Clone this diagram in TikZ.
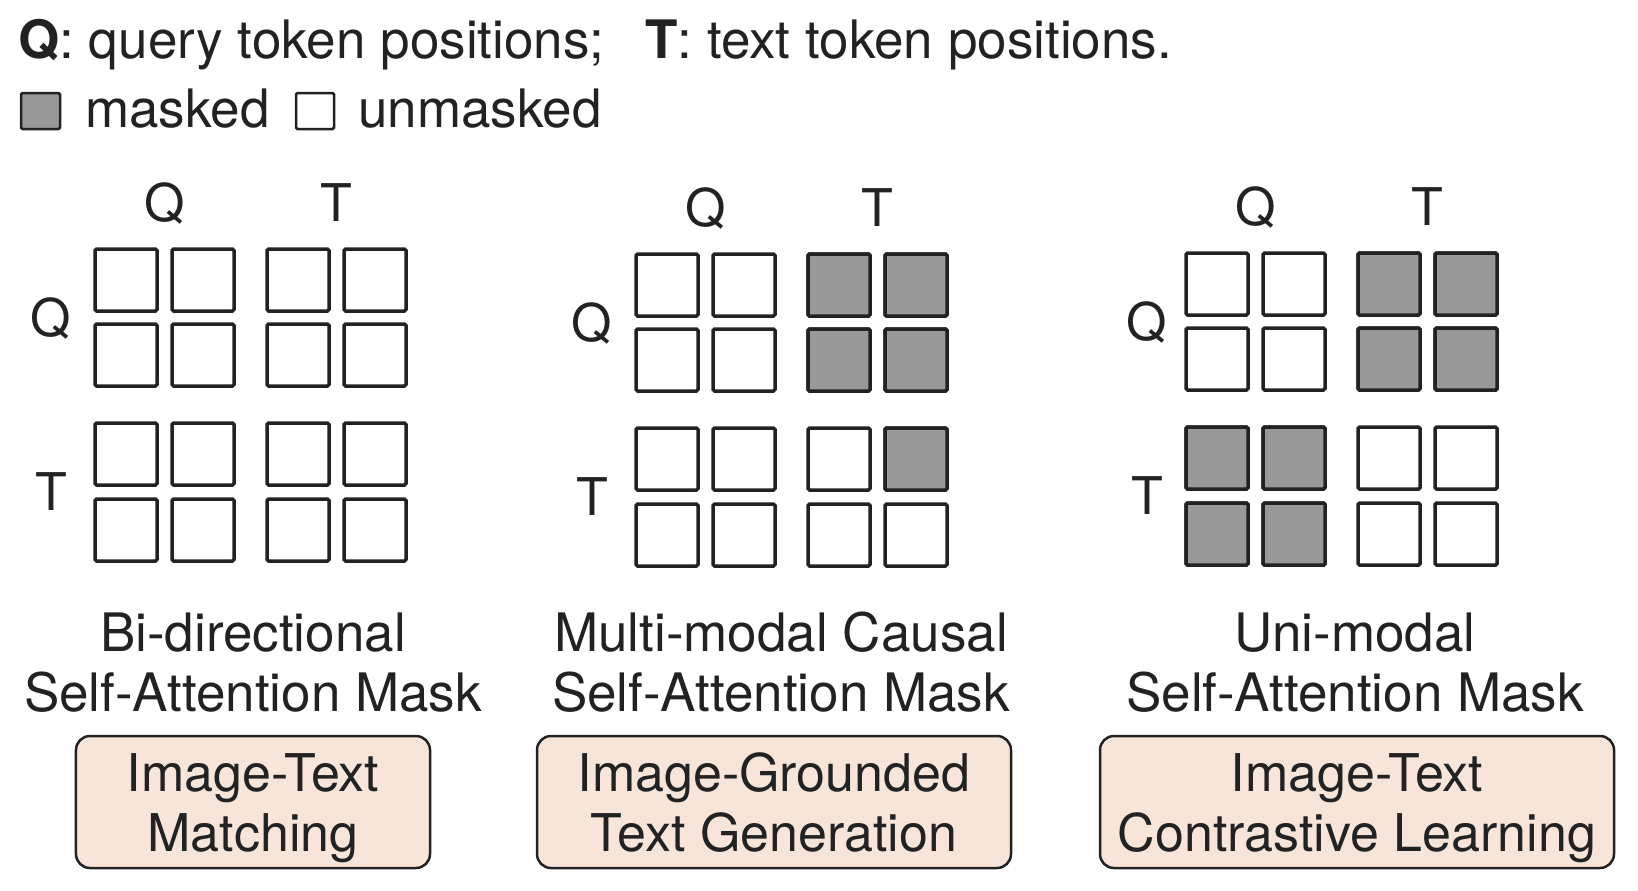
\documentclass[tikz,border=0pt]{standalone}
\usepackage{fontspec}
\setmainfont{TeX Gyre Heros}
\usepackage{tikz}
\definecolor{inkgray}{HTML}{222222}
\definecolor{maskgray}{HTML}{999999}
\definecolor{taskfill}{HTML}{F8E5DA}

\begin{document}
\begin{tikzpicture}[x=1bp,y=-1bp,
  cell/.style={draw=inkgray, line width=3.5bp, rounded corners=1.5bp, fill=white},
  maskcell/.style={cell, fill=maskgray},
  txt/.style={font=\fontsize{52bp}{60bp}\selectfont, text=inkgray, inner sep=0pt},
  widetxt/.style={txt, font=\fontsize{53bp}{60bp}\selectfont},
  caption/.style={widetxt, align=center, anchor=north},
  taskbox/.style={txt, draw=inkgray, line width=2.5bp, rounded corners=14bp, fill=taskfill, align=center, minimum height=132bp}]
\useasboundingbox (0,0) rectangle (1638,890);
%
\node[widetxt, anchor=base west] (keyline) at (18,58) {\textbf{Q}: query token positions;\hspace{41bp}\textbf{T}: text token positions.};
\draw[maskcell, line width=2.5bp] (21,93) rectangle (60,129);
\node[widetxt, anchor=base west] (keymasked) at (85,127) {masked};
\draw[cell, line width=2.5bp] (296,93) rectangle (334,129);
\node[widetxt, anchor=base west] (keyunmasked) at (358,127) {unmasked};
%
\foreach \px/\py/\lx/\p in {95/249/44/bi,636/254/44/mm,1186/253/39/um} {
  \foreach \dx in {0,77,172,249}
    \foreach \dy in {0,75,174,250}
      \draw[cell] (\px+\dx,\py+\dy) rectangle ++(62,62);
  \node[txt, anchor=base] (\p-colq) at (\px+69.5,\py-28) {Q};
  \node[txt, anchor=base] (\p-colt) at (\px+241.5,\py-28) {T};
  \node[txt, anchor=base] (\p-rowq) at (\px-\lx,\py+87) {Q};
  \node[txt, anchor=base] (\p-rowt) at (\px-\lx,\py+261) {T};
}
%
\foreach \dx/\dy in {172/0,249/0,172/75,249/75,249/174}
  \draw[maskcell] (636+\dx,254+\dy) rectangle ++(62,62);
\foreach \dx/\dy in {172/0,249/0,172/75,249/75,0/174,77/174,0/250,77/250}
  \draw[maskcell] (1186+\dx,253+\dy) rectangle ++(62,62);
%
\node[caption] (bicap) at (253,611) {\rule{0pt}{40bp}Bi-directional\\Self-Attention Mask};
\node[caption] (mmcap) at (781,611) {\rule{0pt}{40bp}Multi-modal Causal\\Self-Attention Mask};
\node[caption] (umcap) at (1355,611) {\rule{0pt}{40bp}Uni-modal\\Self-Attention Mask};
%
\node[taskbox, minimum width=354bp] (itm) at (253,802) {\rule{0pt}{50bp}Image-Text\\Matching\rule[-12bp]{0pt}{12bp}};
\node[taskbox, minimum width=474bp] (itg) at (774,802) {\rule{0pt}{50bp}Image-Grounded\\Text Generation\rule[-12bp]{0pt}{12bp}};
\node[taskbox, minimum width=514bp] (itc) at (1357,802) {\rule{0pt}{50bp}Image-Text\\Contrastive Learning\rule[-12bp]{0pt}{12bp}};
\end{tikzpicture}
\end{document}
